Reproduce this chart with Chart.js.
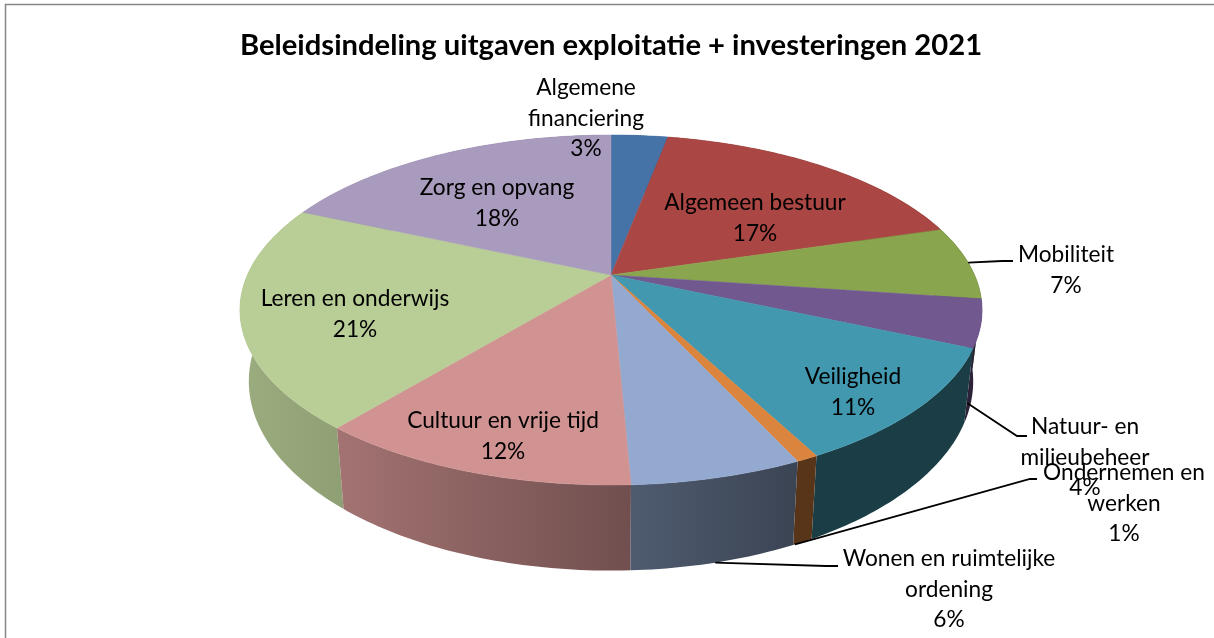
<!DOCTYPE html>
<html lang="nl">
<head>
<meta charset="utf-8">
<title>Beleidsindeling uitgaven</title>
<script src="https://cdn.jsdelivr.net/npm/chart.js@4"></script>
<style>
  html, body { margin: 0; padding: 0; background: #fff; overflow: hidden; width: 1214px; height: 638px; }
  canvas { display: block; }
</style>
</head>
<body>
<canvas id="pie" width="1222" height="638"></canvas>
<script>
const categories = [
  ["Algemene", "financiering"],
  ["Algemeen bestuur"],
  ["Mobiliteit"],
  ["Natuur- en", "milieubeheer"],
  ["Veiligheid"],
  ["Ondernemen en", "werken"],
  ["Wonen en ruimtelijke", "ordening"],
  ["Cultuur en vrije tijd"],
  ["Leren en onderwijs"],
  ["Zorg en opvang"],
];
const shares = [3.0, 17.4, 6.8, 4.4, 10.7, 0.8, 6.2, 11.7, 20.6, 18.4];
const sliceColors = [
  "#4572a7", "#aa4643", "#89a54e", "#71588f", "#4198af",
  "#db843d", "#93a9cf", "#d19392", "#b9cd96", "#a99bbd",
];

// label centres, same order as categories
const labelX = [586, 755, 1066, 1085, 853, 1124, 949, 503, 355, 497];
const labelY = [88, 203, 255, 427, 377, 473, 559, 421, 299, 188];

// leader lines: slice index, place along the slice, how far down the wall, elbow, end
const leaders = [
  { slice: 2, along: 0.5, down: 0, elbow: [1002, 261], end: [1013, 261] },
  { slice: 3, along: 0.97, down: 0.75, elbow: [1017, 436], end: [1027, 436] },
  { slice: 5, along: 0.9, down: 1, elbow: [1030, 479], end: [1037, 479] },
  { slice: 6, along: 0.5, down: 1, elbow: [826, 566], end: [838, 566] },
];

// perspective of the disc
const VIEW = { cx: 611, cy: 275, rx: 363.6, ry: 168, tilt: 0.2, depth: 68.5, rimShrink: 0.976 };

const WALL_X = [240, 337, 631, 797, 980];
const WALL_SHADE = [0.84, 0.78, 0.54, 0.40, 0.40];

const FONT = "Lato, sans-serif";

function project(angle, down) {
  const u = Math.cos(angle);
  const v = Math.sin(angle);
  const s = 1 / (1 - VIEW.tilt * v);
  const x = VIEW.rx * u * s;
  const y = VIEW.cy + VIEW.ry * v * s;
  const shrink = 1 - (1 - VIEW.rimShrink) * down;
  return { x: VIEW.cx + x * shrink, y: y + down * VIEW.depth * s };
}

function sampleAngles(a0, a1) {
  const n = Math.max(4, Math.ceil((a1 - a0) * 60));
  const out = [];
  for (let i = 0; i <= n; i++) out.push(a0 + ((a1 - a0) * i) / n);
  return out;
}

function wallShade(x) {
  if (x <= WALL_X[0]) return WALL_SHADE[0];
  for (let i = 1; i < WALL_X.length; i++) {
    if (x <= WALL_X[i]) {
      const t = (x - WALL_X[i - 1]) / (WALL_X[i] - WALL_X[i - 1]);
      return WALL_SHADE[i - 1] + (WALL_SHADE[i] - WALL_SHADE[i - 1]) * t;
    }
  }
  return WALL_SHADE[WALL_SHADE.length - 1];
}

function darken(hex, f) {
  const n = parseInt(hex.slice(1), 16);
  const r = Math.round(((n >> 16) & 255) * f);
  const g = Math.round(((n >> 8) & 255) * f);
  const b = Math.round((n & 255) * f);
  return `rgb(${r},${g},${b})`;
}

function drawWall(ctx, arc, color) {
  const angles = sampleAngles(arc.startAngle, arc.endAngle);
  const top = angles.map((a) => project(a, 0));
  const bottom = angles.map((a) => project(a, 1));
  const xs = top.map((p) => p.x);
  const x0 = Math.min(...xs);
  const x1 = Math.max(...xs);
  const grad = ctx.createLinearGradient(x0, 0, x1 + 0.01, 0);
  grad.addColorStop(0, darken(color, wallShade(x0)));
  grad.addColorStop(1, darken(color, wallShade(x1)));
  ctx.beginPath();
  top.forEach((p, i) => (i ? ctx.lineTo(p.x, p.y) : ctx.moveTo(p.x, p.y)));
  bottom.reverse().forEach((p) => ctx.lineTo(p.x, p.y));
  ctx.closePath();
  ctx.fillStyle = grad;
  ctx.fill();
}

function drawTop(ctx, arc, color) {
  ctx.beginPath();
  ctx.moveTo(VIEW.cx, VIEW.cy);
  sampleAngles(arc.startAngle, arc.endAngle).forEach((a) => {
    const p = project(a, 0);
    ctx.lineTo(p.x, p.y);
  });
  ctx.closePath();
  ctx.fillStyle = color;
  ctx.fill();
  ctx.strokeStyle = color;
  ctx.lineWidth = 0.5;
  ctx.stroke();
}

// Chart.js has no 3D pie, so the arcs it computes get painted in perspective here
const pie3d = {
  id: "pie3d",
  beforeDatasetsDraw(chart) {
    const ctx = chart.ctx;
    const arcs = chart.getDatasetMeta(0).data;
    const colors = chart.data.datasets[0].backgroundColor;
    const mid = (a) => Math.sin((a.startAngle + a.endAngle) / 2);
    ctx.save();

    arcs
      .map((arc, i) => ({ arc, i }))
      .sort((a, b) => mid(a.arc) - mid(b.arc))
      .forEach(({ arc, i }) => drawWall(ctx, arc, colors[i]));
    arcs.forEach((arc, i) => drawTop(ctx, arc, colors[i]));

    ctx.strokeStyle = "#000";
    ctx.lineWidth = 1.8;
    leaders.forEach((l) => {
      const arc = arcs[l.slice];
      const a = arc.startAngle + (arc.endAngle - arc.startAngle) * l.along;
      const p = project(a, l.down);
      ctx.beginPath();
      ctx.moveTo(p.x, p.y);
      ctx.lineTo(l.elbow[0], l.elbow[1]);
      ctx.lineTo(l.end[0], l.end[1]);
      ctx.stroke();
    });

    ctx.fillStyle = "#000";
    ctx.font = `22.7px ${FONT}`;
    ctx.textAlign = "center";
    ctx.textBaseline = "middle";
    categories.forEach((lines, i) => {
      const rows = [...lines, `${Math.round(shares[i])}%`];
      rows.forEach((text, r) => ctx.fillText(text, labelX[i], labelY[i] + r * 30.3));
    });

    ctx.restore();
    return false;
  },
  beforeDraw(chart) {
    const ctx = chart.ctx;
    ctx.save();
    ctx.strokeStyle = "#868686";
    ctx.lineWidth = 1.5;
    ctx.beginPath();
    ctx.moveTo(5.5, 638);
    ctx.lineTo(5.5, 4.5);
    ctx.lineTo(1222, 4.5);
    ctx.stroke();
    ctx.restore();
  },
};

new Chart(document.getElementById("pie"), {
  type: "pie",
  data: {
    labels: categories.map((c) => c.join(" ")),
    datasets: [{ data: shares, backgroundColor: sliceColors, borderWidth: 0 }],
  },
  options: {
    responsive: false,
    animation: false,
    plugins: {
      legend: { display: false },
      tooltip: { enabled: false },
      title: {
        display: true,
        text: "Beleidsindeling uitgaven exploitatie + investeringen 2021",
        color: "#000",
        font: { family: FONT, size: 29.2, weight: "bold" },
        padding: { top: 28, bottom: 8 },
      },
    },
  },
  plugins: [pie3d],
});
</script>
</body>
</html>
